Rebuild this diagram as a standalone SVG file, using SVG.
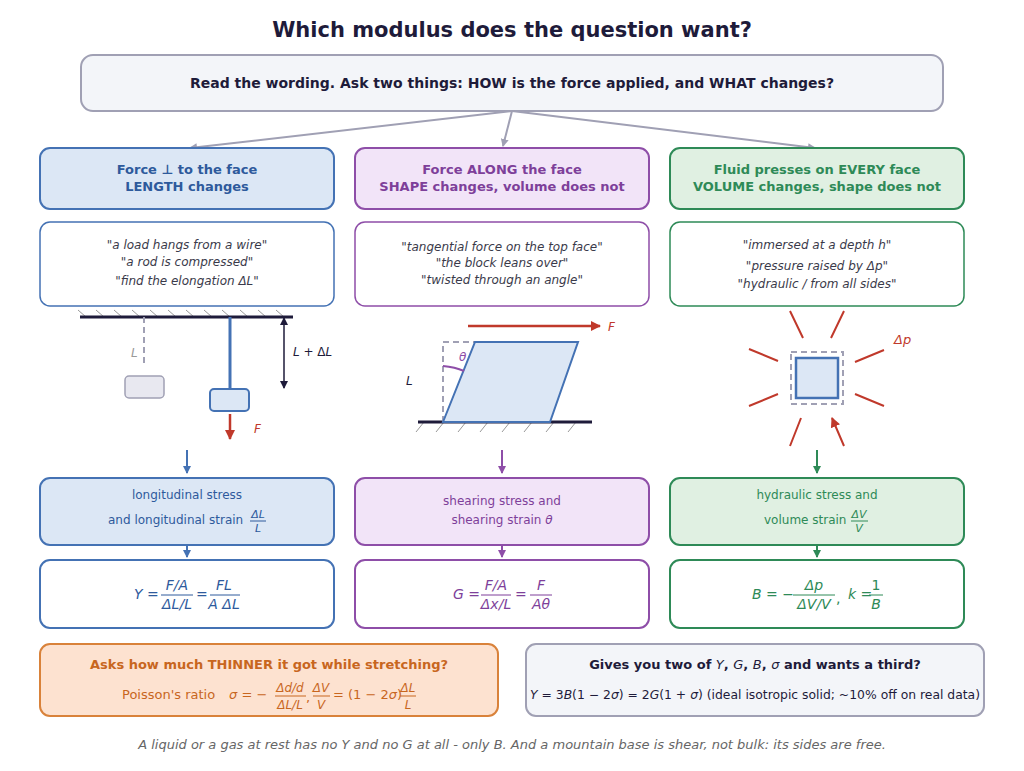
<svg xmlns="http://www.w3.org/2000/svg" width="1024" height="771" viewBox="0 0 1024 771">
<style>
text{font-family:"DejaVu Sans","Liberation Sans",sans-serif}
.t{font-size:21px;font-weight:bold;fill:#1e1b3a;text-anchor:middle}
.hd{font-size:13px;font-weight:bold;text-anchor:middle}
.q{font-size:12px;font-style:italic;fill:#3a3a4a;text-anchor:middle}
.m{font-style:italic}
.b{fill:#2e5a9c}.p{fill:#7e3f9a}.g{fill:#2e8a57}.o{fill:#c8661e}.k{fill:#1e1b3a}
.c{text-anchor:middle}
.hat{stroke:#999;stroke-width:1}
</style>
<defs>
<marker id="ag" markerWidth="8" markerHeight="8" refX="7" refY="4" orient="auto" markerUnits="userSpaceOnUse"><path d="M0,0L8,4L0,8z" fill="#a0a0b4"/></marker>
<marker id="ab" markerWidth="8" markerHeight="8" refX="7" refY="4" orient="auto" markerUnits="userSpaceOnUse"><path d="M0,0L8,4L0,8z" fill="#4472b4"/></marker>
<marker id="ap" markerWidth="8" markerHeight="8" refX="7" refY="4" orient="auto" markerUnits="userSpaceOnUse"><path d="M0,0L8,4L0,8z" fill="#8e4ea8"/></marker>
<marker id="an" markerWidth="8" markerHeight="8" refX="7" refY="4" orient="auto" markerUnits="userSpaceOnUse"><path d="M0,0L8,4L0,8z" fill="#2e8a57"/></marker>
<marker id="ar" markerWidth="10" markerHeight="10" refX="9" refY="5" orient="auto" markerUnits="userSpaceOnUse"><path d="M0,0L10,5L0,10z" fill="#c0392b"/></marker>
<marker id="ak" markerWidth="8" markerHeight="8" refX="7" refY="4" orient="auto-start-reverse" markerUnits="userSpaceOnUse"><path d="M0,0L8,4L0,8z" fill="#1e1b3a"/></marker>
</defs>
<rect width="1024" height="771" fill="#fff"/>
<text class="t" x="512" y="37">Which modulus does the question want?</text>

<g id="top"><rect x="81" y="55" width="862" height="56" rx="12" fill="#f3f5f9" stroke="#a0a0b4" stroke-width="2"/>
<text class="hd k" x="512" y="88" style="font-size:14px">Read the wording. Ask two things: HOW is the force applied, and WHAT changes?</text></g>

<g id="connectors" fill="none" stroke-width="2">
<path d="M512,111L190,148" stroke="#a0a0b4" marker-end="url(#ag)"/>
<path d="M512,111L503,146" stroke="#a0a0b4" marker-end="url(#ag)"/>
<path d="M512,111L815,148" stroke="#a0a0b4" marker-end="url(#ag)"/>
<path d="M187,450V473" stroke="#4472b4" marker-end="url(#ab)"/>
<path d="M502,450V473" stroke="#8e4ea8" marker-end="url(#ap)"/>
<path d="M817,450V473" stroke="#2e8a57" marker-end="url(#an)"/>
<path d="M187,545V557" stroke="#4472b4" marker-end="url(#ab)"/>
<path d="M502,545V557" stroke="#8e4ea8" marker-end="url(#ap)"/>
<path d="M817,545V557" stroke="#2e8a57" marker-end="url(#an)"/>
</g>

<g id="h1"><rect x="40" y="148" width="294" height="61" rx="10" fill="#dce7f5" stroke="#4472b4" stroke-width="2"/>
<text class="hd b" x="187" y="174">Force ⊥ to the face</text><text class="hd b" x="187" y="191">LENGTH changes</text></g>
<g id="h2"><rect x="355" y="148" width="294" height="61" rx="10" fill="#f2e4f8" stroke="#8e4ea8" stroke-width="2"/>
<text class="hd p" x="502" y="174">Force ALONG the face</text><text class="hd p" x="502" y="191">SHAPE changes, volume does not</text></g>
<g id="h3"><rect x="670" y="148" width="294" height="61" rx="10" fill="#e0f0e2" stroke="#2e8a57" stroke-width="2"/>
<text class="hd g" x="817" y="174">Fluid presses on EVERY face</text><text class="hd g" x="817" y="191">VOLUME changes, shape does not</text></g>

<g id="q1"><rect x="40" y="222" width="294" height="84" rx="10" fill="#fff" stroke="#4472b4" stroke-width="1.5"/>
<text class="q" x="187" y="249">"a load hangs from a wire"</text><text class="q" x="187" y="266">"a rod is compressed"</text><text class="q" x="187" y="285">"find the elongation ΔL"</text></g>
<g id="q2"><rect x="355" y="222" width="294" height="84" rx="10" fill="#fff" stroke="#8e4ea8" stroke-width="1.5"/>
<text class="q" x="502" y="251">"tangential force on the top face"</text><text class="q" x="502" y="267">"the block leans over"</text><text class="q" x="502" y="284">"twisted through an angle"</text></g>
<g id="q3"><rect x="670" y="222" width="294" height="84" rx="10" fill="#fff" stroke="#2e8a57" stroke-width="1.5"/>
<text class="q" x="817" y="249">"immersed at a depth h"</text><text class="q" x="817" y="270">"pressure raised by Δp"</text><text class="q" x="817" y="288">"hydraulic / from all sides"</text></g>

<g id="fig1">
<path class="hat" d="M78,310l8,7M96,310l8,7M114,310l8,7M132,310l8,7M150,310l8,7M168,310l8,7M186,310l8,7M204,310l8,7M222,310l8,7M240,310l8,7M258,310l8,7M276,310l8,7"/>
<line x1="80" y1="317" x2="293" y2="317" stroke="#1e1b3a" stroke-width="3"/>
<line x1="144" y1="317" x2="144" y2="367" stroke="#a0a0b4" stroke-width="2" stroke-dasharray="6,4"/>
<text x="131" y="357" font-size="12" class="m" fill="#999">L</text>
<rect x="125" y="376" width="39" height="22" rx="4" fill="#e8e8f0" stroke="#a0a0b4" stroke-width="1.5"/>
<line x1="230" y1="317" x2="230" y2="390" stroke="#4472b4" stroke-width="3"/>
<rect x="210" y="389" width="39" height="22" rx="4" fill="#dce7f5" stroke="#4472b4" stroke-width="2"/>
<line x1="230" y1="414" x2="230" y2="439" stroke="#c0392b" stroke-width="2.5" marker-end="url(#ar)"/>
<text x="254" y="433" font-size="12" class="m" fill="#c0392b">F</text>
<line x1="284" y1="318" x2="284" y2="388" stroke="#1e1b3a" stroke-width="1.5" marker-start="url(#ak)" marker-end="url(#ak)"/>
<text x="293" y="356" font-size="12" class="k"><tspan class="m">L</tspan> + Δ<tspan class="m">L</tspan></text>
</g>

<g id="fig2">
<path class="hat" d="M424,422l-8,10M444,422l-8,10M466,422l-8,10M488,422l-8,10M510,422l-8,10M532,422l-8,10M554,422l-8,10M576,422l-8,10"/>
<line x1="418" y1="422" x2="592" y2="422" stroke="#1e1b3a" stroke-width="3"/>
<path d="M443,422V342H475" fill="none" stroke="#a0a0b4" stroke-width="2" stroke-dasharray="6,4"/>
<path d="M443,422L475,342H578L550,422Z" fill="#dce7f5" stroke="#4472b4" stroke-width="2"/>
<path d="M443,366Q455,367 464,371" fill="none" stroke="#8e4ea8" stroke-width="2"/>
<text x="459" y="361" font-size="12" class="m" fill="#8e4ea8">θ</text>
<text x="406" y="385" font-size="12" class="m k">L</text>
<line x1="468" y1="326" x2="600" y2="326" stroke="#c0392b" stroke-width="2.5" marker-end="url(#ar)"/>
<text x="608" y="331" font-size="12" class="m" fill="#c0392b">F</text>
</g>

<g id="fig3" stroke="#c0392b" stroke-width="2">
<rect x="791" y="352" width="52" height="52" fill="none" stroke="#a0a0b4" stroke-dasharray="6,4"/>
<rect x="796" y="358" width="42" height="40" fill="#dce7f5" stroke="#4472b4" stroke-width="2.5"/>
<path d="M790,311L803,338M844,311L831,338M749,349L778,361M884,350L855,362M749,406L778,394M884,406L855,394M790,446L801,418M844,446L832,418" marker-end="url(#ar)"/>
<text x="894" y="344" font-size="13" class="m" fill="#c0392b" stroke="none">Δp</text>
</g>

<g id="s1"><rect x="40" y="478" width="294" height="67" rx="10" fill="#dce7f5" stroke="#4472b4" stroke-width="2"/>
<text class="b c" x="187" y="499" font-size="12">longitudinal stress</text>
<text class="b" x="108" y="524" font-size="12">and longitudinal strain</text>
<text class="b c m" x="258" y="518" font-size="11">ΔL</text><line x1="250" y1="521" x2="266" y2="521" stroke="#2e5a9c"/><text class="b c m" x="258" y="532" font-size="11">L</text></g>
<g id="s2"><rect x="355" y="478" width="294" height="67" rx="10" fill="#f2e4f8" stroke="#8e4ea8" stroke-width="2"/>
<text class="p c" x="502" y="505" font-size="12">shearing stress and</text>
<text class="p c" x="502" y="524" font-size="12">shearing strain <tspan class="m">θ</tspan></text></g>
<g id="s3"><rect x="670" y="478" width="294" height="67" rx="10" fill="#e0f0e2" stroke="#2e8a57" stroke-width="2"/>
<text class="g c" x="817" y="499" font-size="12">hydraulic stress and</text>
<text class="g" x="764" y="524" font-size="12">volume strain</text>
<text class="g c m" x="859" y="518" font-size="11">ΔV</text><line x1="851" y1="521" x2="868" y2="521" stroke="#2e8a57"/><text class="g c m" x="859" y="532" font-size="11">V</text></g>

<g id="f1"><rect x="40" y="560" width="294" height="68" rx="10" fill="#fff" stroke="#4472b4" stroke-width="2"/>
<g class="b" font-size="14"><text x="134" y="599"><tspan class="m">Y</tspan> =</text>
<text class="c m" x="177" y="590">F/A</text><line x1="161" y1="595" x2="193" y2="595" stroke="#2e5a9c"/><text class="c m" x="177" y="609">ΔL/L</text>
<text x="196" y="599">=</text>
<text class="c m" x="224" y="590">FL</text><line x1="210" y1="595" x2="240" y2="595" stroke="#2e5a9c"/><text class="c m" x="224" y="609">A ΔL</text></g></g>
<g id="f2"><rect x="355" y="560" width="294" height="68" rx="10" fill="#fff" stroke="#8e4ea8" stroke-width="2"/>
<g class="p" font-size="14"><text x="453" y="599"><tspan class="m">G</tspan> =</text>
<text class="c m" x="496" y="590">F/A</text><line x1="481" y1="595" x2="511" y2="595" stroke="#7e3f9a"/><text class="c m" x="496" y="609">Δx/L</text>
<text x="515" y="599">=</text>
<text class="c m" x="541" y="590">F</text><line x1="530" y1="595" x2="552" y2="595" stroke="#7e3f9a"/><text class="c m" x="541" y="609">Aθ</text></g></g>
<g id="f3"><rect x="670" y="560" width="294" height="68" rx="10" fill="#fff" stroke="#2e8a57" stroke-width="2"/>
<g class="g" font-size="14"><text x="752" y="599"><tspan class="m">B</tspan> = −</text>
<text class="c m" x="814" y="590">Δp</text><line x1="793" y1="595" x2="835" y2="595" stroke="#2e8a57"/><text class="c m" x="814" y="609">ΔV/V</text>
<text x="836" y="603">,</text>
<text x="848" y="599"><tspan class="m">k</tspan> =</text>
<text class="c" x="876" y="590">1</text><line x1="869" y1="595" x2="883" y2="595" stroke="#2e8a57"/><text class="c m" x="876" y="609">B</text></g></g>

<g id="poisson"><rect x="40" y="644" width="458" height="72" rx="10" fill="#fde2d0" stroke="#d9823a" stroke-width="2"/>
<text class="hd o" x="269" y="669">Asks how much THINNER it got while stretching?</text>
<g class="o" font-size="13"><text x="122" y="699">Poisson's ratio</text>
<text x="229" y="699" class="m">σ <tspan font-style="normal">= −</tspan></text>
<text class="c m" x="290" y="692" font-size="12">Δd/d</text><line x1="275" y1="696" x2="306" y2="696" stroke="#c8661e"/><text class="c m" x="290" y="709" font-size="12">ΔL/L</text>
<text x="306" y="702">,</text>
<text class="c m" x="321" y="692" font-size="12">ΔV</text><line x1="313" y1="696" x2="330" y2="696" stroke="#c8661e"/><text class="c m" x="321" y="709" font-size="12">V</text>
<text x="333" y="699">= (1 − 2<tspan class="m">σ</tspan>)</text>
<text class="c m" x="408" y="692" font-size="12">ΔL</text><line x1="400" y1="696" x2="416" y2="696" stroke="#c8661e"/><text class="c m" x="408" y="709" font-size="12">L</text></g></g>

<g id="relation"><rect x="526" y="644" width="458" height="72" rx="10" fill="#f3f5f9" stroke="#a0a0b4" stroke-width="2"/>
<text class="hd k" x="755" y="669">Gives you two of <tspan class="m" font-weight="normal">Y</tspan>, <tspan class="m" font-weight="normal">G</tspan>, <tspan class="m" font-weight="normal">B</tspan>, <tspan class="m" font-weight="normal">σ</tspan> and wants a third?</text>
<text class="k c" x="755" y="699" font-size="12" textLength="450" lengthAdjust="spacingAndGlyphs"><tspan class="m">Y</tspan> = 3<tspan class="m">B</tspan>(1 − 2<tspan class="m">σ</tspan>) = 2<tspan class="m">G</tspan>(1 + <tspan class="m">σ</tspan>)   (ideal isotropic solid; ~10% off on real data)</text></g>

<text x="512" y="749" class="c m" font-size="13" fill="#666">A liquid or a gas at rest has no Y and no G at all - only B. And a mountain base is shear, not bulk: its sides are free.</text>
</svg>
